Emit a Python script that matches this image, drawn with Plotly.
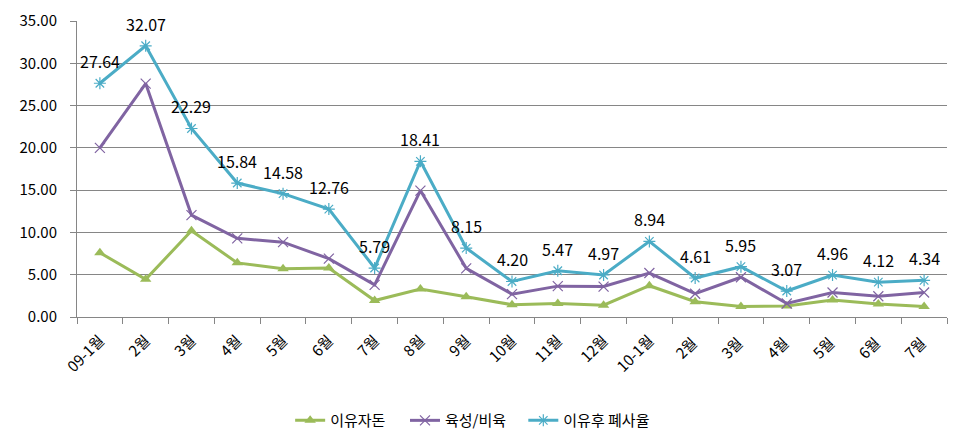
import plotly.graph_objects as go

categories = ["09-1월", "2월", "3월", "4월", "5월", "6월", "7월", "8월", "9월", "10월",
              "11월", "12월", "10-1월", "2월 ", "3월 ", "4월 ", "5월 ", "6월 ", "7월 "]
weaner = [7.6, 4.45, 10.2, 6.4, 5.7, 5.8, 1.95, 3.3, 2.4, 1.45, 1.6, 1.4, 3.7, 1.8, 1.25, 1.3, 2.0, 1.55, 1.25]
grower = [20.0, 27.6, 12.05, 9.3, 8.85, 6.9, 3.8, 14.95, 5.75, 2.7, 3.65, 3.6, 5.2, 2.75, 4.7, 1.6, 2.9, 2.45, 2.9]
post_weaning = [27.64, 32.07, 22.29, 15.84, 14.58, 12.76, 5.79, 18.41, 8.15, 4.20,
                5.47, 4.97, 8.94, 4.61, 5.95, 3.07, 4.96, 4.12, 4.34]
series_names = ["이유자돈", "육성/비육", "이유후 폐사율"]

FONT = "Noto Sans CJK KR, Malgun Gothic, sans-serif"

fig = go.Figure()
fig.add_trace(go.Scatter(x=categories, y=weaner, name=series_names[0], mode="lines+markers",
                         legend="legend", showlegend=True,
                         line=dict(color="#9BBB59", width=3),
                         marker=dict(symbol="triangle-up", size=10, color="#9BBB59")))
fig.add_trace(go.Scatter(x=categories, y=grower, name=series_names[1], mode="lines+markers",
                         legend="legend2", showlegend=True,
                         line=dict(color="#8064A2", width=3),
                         marker=dict(symbol="x-thin-open", size=10, color="#8064A2",
                                     line=dict(color="#8064A2", width=1.2))))
fig.add_trace(go.Scatter(x=categories, y=post_weaning, name=series_names[2], mode="lines+markers",
                         legend="legend3", showlegend=True,
                         line=dict(color="#4BACC6", width=3),
                         marker=dict(symbol="asterisk-open", size=10, color="#4BACC6",
                                     line=dict(color="#4BACC6", width=1.2))))

for c, v in zip(categories, post_weaning):
    fig.add_annotation(x=c, y=v, text=f"{v:.2f}", showarrow=False, yanchor="middle",
                       yshift=22, font=dict(family=FONT, size=16, color="#000000"))

def legend_at(xpos):
    return dict(orientation="h", x=xpos, xanchor="left", y=-0.35, yanchor="middle",
                font=dict(family=FONT, size=15), itemwidth=30, bgcolor="rgba(0,0,0,0)",
                visible=True)

fig.update_layout(
    width=954, height=433,
    margin=dict(l=69, r=15, t=13, b=124, autoexpand=False),
    plot_bgcolor="white", paper_bgcolor="white",
    font=dict(family=FONT, size=14, color="#000000"),
    showlegend=True,
    legend=legend_at(0.245),
    legend2=legend_at(0.377),
    legend3=legend_at(0.513),
    xaxis=dict(type="category", range=[-0.5, len(categories) - 0.5],
               tickson="boundaries", ticks="outside", ticklen=6,
               tickcolor="#868686", showline=True, linecolor="#868686", linewidth=1,
               showgrid=False, tickangle=-45, automargin=False, ticklabelstandoff=8,
               tickfont=dict(family=FONT, size=15)),
    yaxis=dict(range=[0, 35], dtick=5, tickformat=".2f", ticks="outside", ticklen=6,
               tickcolor="#868686", showline=True, linecolor="#868686", linewidth=1,
               showgrid=True, gridcolor="#868686", gridwidth=1, zeroline=False,
               automargin=False, ticklabelstandoff=10,
               tickfont=dict(family=FONT, size=15)),
)

fig.write_html("out.html")
